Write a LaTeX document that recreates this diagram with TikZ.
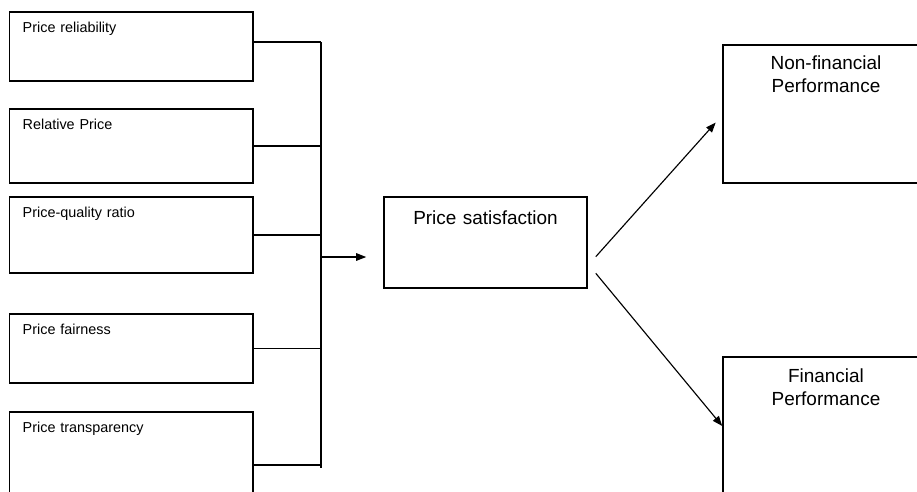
\documentclass[tikz,border=0pt]{standalone}
\usepackage{fontspec}
\setmainfont{Liberation Sans}
\usetikzlibrary{positioning,calc,arrows.meta}

\begin{document}
\begin{tikzpicture}[x=0.02cm,y=-0.02cm,
    factor/.style={rectangle,draw,line width=1.1pt,inner xsep=0.264cm,inner ysep=0pt,
        text width=4.342cm,align=left,text height=0.4cm,font=\fontsize{8.2}{10}\selectfont},
    outcome/.style={rectangle,draw,line width=0.9pt,inner sep=0pt,align=center,
        font=\fontsize{10.8}{13.2}\selectfont},
    link/.style={line width=0.6pt},
    arr/.style={line width=0.65pt,-{Triangle[length=2mm,width=1.5mm]}}]

\useasboundingbox (0,0) rectangle (917,491);
\clip (0,0) rectangle (917,491);

% Price factors
\node[factor,text depth=0.98cm] (rel) at (131.25,46.5) {Price reliability};
\node[factor,text depth=1.08cm] (relp) at (131.25,146) {Relative Price};
\node[factor,text depth=1.12cm] (pq) at (131.25,235) {Price-quality ratio};
\node[factor,text depth=0.98cm] (fair) at (131.25,348.5) {Price fairness};
\node[factor,text depth=1.72cm] (transp) at (131.25,465) {Price transparency};

% Bus
\coordinate (bustop) at (321,42);
\coordinate (busbot) at (321,468);
\coordinate (busjoin) at (321,257);
\draw[link] (bustop) -- (busbot);
\draw[link] (rel.east |- bustop) -- (bustop);
\foreach \n in {relp,pq,fair,transp} {
    \draw[link] (\n.east) -- (\n.east -| bustop);
}

% Price satisfaction
\node[outcome,text width=4.06cm,text height=0.55cm,text depth=1.27cm] (sat) at (485.5,242.5) {Price satisfaction};
\draw[arr,shorten >=0.34cm] (busjoin) -- (busjoin -| sat.west);

% Performance
\node[outcome,text width=4.12cm,text height=0.49cm,text depth=2.27cm] (nonfin) at (826,114) {Non-financial\\Performance};
\node[outcome,text width=4.12cm,text height=0.51cm,text depth=2.25cm] (fin) at (826,426) {Financial\\Performance};
\draw[arr] ([xshift=0.16cm,yshift=-0.284cm]sat.east) -- ([xshift=-0.13cm,yshift=-0.17cm]nonfin.west);
\draw[arr] ([xshift=0.16cm,yshift=-0.616cm]sat.east) -- (fin.west);

\end{tikzpicture}
\end{document}
